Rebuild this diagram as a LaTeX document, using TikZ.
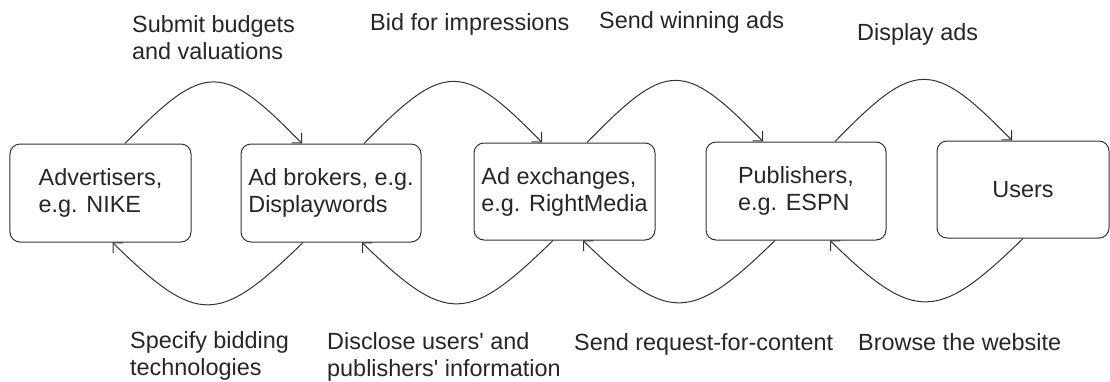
\documentclass[tikz,border=0pt]{standalone}
\usepackage{fontspec}
\setmainfont{Liberation Sans}
\usetikzlibrary{arrows.meta}
\begin{document}
\begin{tikzpicture}[x=1bp,y=-1bp,
  every node/.style={font=\fontsize{23.5}{27}\selectfont, text=black!85},
  box/.style={draw=black!80, line width=1bp, rounded corners=10bp, align=left, inner sep=0pt},
  lbl/.style={align=left, inner sep=0pt, anchor=base west},
  arr/.style={draw=black!80, line width=1bp, -{Straight Barb[length=7bp,width=14bp]}}]
\useasboundingbox (0,0) rectangle (1110,381);
% boxes
\node[box, minimum width=181bp, minimum height=98bp] (adv) at (100.5,193) {Advertisers,\\e.g. NIKE};
\node[box, minimum width=180bp, minimum height=98bp] (brk) at (331,193) {Ad brokers, e.g.\\Displaywords};
\node[box, minimum width=181bp, minimum height=97bp] (exc) at (564.5,191.5) {Ad exchanges,\\e.g. RightMedia};
\node[box, minimum width=180bp, minimum height=98bp] (pub) at (796,191) {Publishers,\\e.g. ESPN};
\node[box, minimum width=172bp, minimum height=97bp] (usr) at (1023,189.5) {Users};
% top arcs
\draw[arr] ([xshift=24.5bp]adv.north) .. controls +(80,-82) and +(-80,-82) .. ([xshift=-29bp]brk.north);
\draw[arr] ([xshift=33bp]brk.north) .. controls +(80,-82) and +(-80,-82) .. ([xshift=-22.5bp]exc.north);
\draw[arr] ([xshift=22.5bp]exc.north) .. controls +(80,-82) and +(-80,-82) .. ([xshift=-33bp]pub.north);
\draw[arr] ([xshift=39bp]pub.north) .. controls +(80,-82) and +(-80,-82) .. ([xshift=-11bp]usr.north);
% bottom arcs
\draw[arr] ([xshift=-28bp]brk.south) .. controls +(-85,83) and +(85,83) .. ([xshift=12bp]adv.south);
\draw[arr] ([xshift=-11.5bp]exc.south) .. controls +(-85,83) and +(85,83) .. ([xshift=31bp]brk.south);
\draw[arr] ([xshift=-21bp]pub.south) .. controls +(-85,83) and +(85,83) .. ([xshift=18.5bp]exc.south);
\draw[arr] (usr.south) .. controls +(-85,83) and +(85,83) .. ([xshift=34bp]pub.south);
% labels (base anchor = baseline of last line)
\node[lbl] (l1) at (132,59) {Submit budgets\\and valuations};
\node[lbl] (l2) at (370,30) {Bid for impressions};
\node[lbl] (l3) at (599,28) {Send winning ads};
\node[lbl] (l4) at (857,40) {Display ads};
\node[lbl] (l5) at (130,375) {Specify bidding\\technologies};
\node[lbl] (l6) at (327,376) {Disclose users\textquotesingle{} and\\publishers\textquotesingle{} information};
\node[lbl] (l7) at (574,350) {Send request-for-content};
\node[lbl] (l8) at (858,350) {Browse the website};
\end{tikzpicture}
\end{document}
